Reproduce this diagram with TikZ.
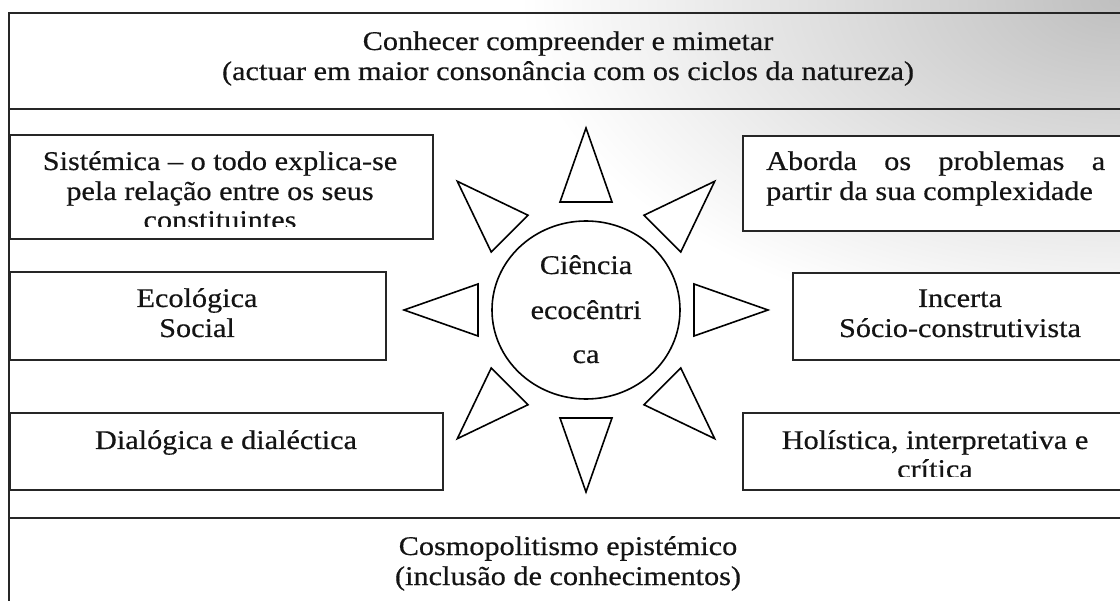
\documentclass[tikz,border=0pt]{standalone}
\usepackage{fontspec}
\setmainfont{Liberation Serif}[FakeStretch=1.12,FakeBold=0.5]
\usetikzlibrary{shapes.geometric}
\begin{document}
\begin{tikzpicture}[x=1pt,y=1pt,
  frameline/.style={draw=black!85, line width=2.2pt},
  boxstyle/.style={draw=black!85, line width=2.2pt, fill=white, rectangle, inner sep=0pt, anchor=north west},
  txt/.style={inner sep=0pt, anchor=base, text=black!92, font=\fontsize{27}{30}\selectfont},
  ray/.style={draw=black, line width=1.6pt, fill=white, line join=miter},
]
\useasboundingbox (0,0) rectangle (1120,-601);
\begin{scope}
\clip (0,0) rectangle (1120,-601);
\fill[white] (0,0) rectangle (1120,-601);
\shade[inner color=black!25, outer color=white] (1120,0) ellipse (600 and 340);
% frame
\draw[frameline] (9,-601) -- (9,-13) -- (1130,-13);
\draw[frameline] (9,-109) -- (1130,-109);
\draw[frameline] (9,-518) -- (1130,-518);
% boxes
\node[boxstyle, minimum width=423, minimum height=104] (bS) at (9,-134) {};
\node[boxstyle, minimum width=376, minimum height=88]  (bE) at (9,-271) {};
\node[boxstyle, minimum width=433, minimum height=77]  (bD) at (9,-412) {};
\node[boxstyle, minimum width=400, minimum height=95]  (bA) at (742,-135) {};
\node[boxstyle, minimum width=350, minimum height=87]  (bI) at (792,-272) {};
\node[boxstyle, minimum width=400, minimum height=77]  (bH) at (742,-412) {};
\end{scope}
% centre
\node[ellipse, draw=black, line width=1.6pt, fill=white, minimum width=188, minimum height=178, inner sep=0pt] (c) at (586,-310) {};
\foreach \a in {0,45,...,315}{
  \draw[ray, shift={(586,-310)}, rotate=\a] (182,0) -- (108,26) -- (108,-26) -- cycle;
}
% texts
\node[txt] (t1) at (568,-50) {Conhecer compreender e mimetar};
\node[txt] (t2) at (568,-80) {(actuar em maior consonância com os ciclos da natureza)};
\node[txt] (s1) at (220,-170) {Sistémica – o todo explica-se};
\node[txt] (s2) at (220,-200) {pela relação entre os seus};
\begin{scope}
\clip (9,-134) rectangle (432,-227);
\node[txt] (s3) at (220,-229) {constituintes};
\end{scope}
\node[txt, anchor=base west] (a1) at (766,-170) {\makebox[339pt][s]{Aborda\hfill os\hfill problemas\hfill a}};
\node[txt, anchor=base west] (a2) at (766,-200) {partir da sua complexidade};
\node[txt] (e1) at (197,-307) {Ecológica};
\node[txt] (e2) at (197,-337) {Social};
\node[txt] (i1) at (960,-307) {Incerta};
\node[txt] (i2) at (960,-337) {Sócio-construtivista};
\node[txt] (d1) at (226,-449) {Dialógica e dialéctica};
\node[txt] (h1) at (935,-449) {Holística, interpretativa e};
\begin{scope}
\clip (742,-412) rectangle (1120,-477);
\node[txt] (h2) at (935,-478) {crítica};
\end{scope}
\node[txt] (c1) at (586,-274) {Ciência};
\node[txt] (c2) at (586,-319) {ecocêntri};
\node[txt] (c3) at (586,-363) {ca};
\node[txt] (b1) at (568,-555) {Cosmopolitismo epistémico};
\node[txt] (b2) at (568,-585) {(inclusão de conhecimentos)};
\end{tikzpicture}
\end{document}
